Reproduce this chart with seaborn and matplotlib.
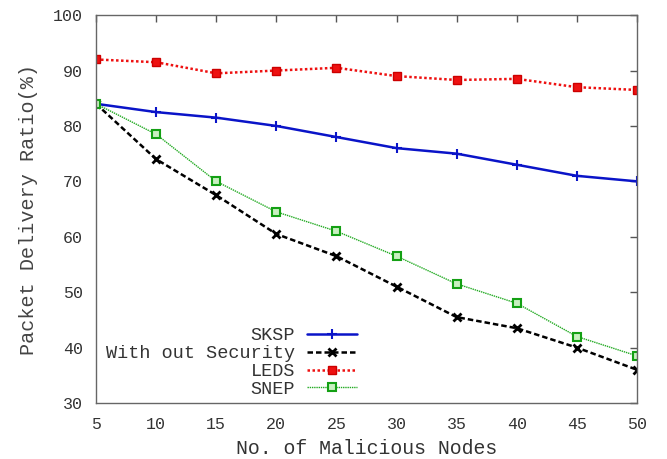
import matplotlib
matplotlib.use("Agg")
import matplotlib.pyplot as plt
import seaborn as sns
import pandas as pd

nodes = [5, 10, 15, 20, 25, 30, 35, 40, 45, 50]
sksp = [84, 82.5, 81.5, 80, 78, 76, 75, 73, 71, 70]
without = [84, 74, 67.5, 60.5, 56.5, 51, 45.5, 43.5, 40, 36]
leds = [92, 91.5, 89.5, 90, 90.5, 89, 88.3, 88.5, 87, 86.5]
snep = [84, 78.5, 70, 64.5, 61, 56.5, 51.5, 48, 42, 38.5]
series_names = ["SKSP", "With out Security", "LEDS", "SNEP"]
x_ticks = [5, 10, 15, 20, 25, 30, 35, 40, 45, 50]
y_ticks = [30, 40, 50, 60, 70, 80, 90, 100]

sns.set_style("white")
plt.rcParams['font.family'] = ['Liberation Mono', 'DejaVu Sans Mono']

fig = plt.figure(figsize=(6.67, 4.59), dpi=100)
ax = fig.add_axes([0.144, 0.122, 0.811, 0.845])

styles = [
    dict(color="#0a14c8", linestyle="-", marker="+", markersize=7, linewidth=1.8,
         markeredgewidth=1.5, markeredgecolor="#0a14c8"),
    dict(color="black", linestyle=(0, (2.2, 1.2)), marker="x", markersize=6, linewidth=1.8,
         markeredgewidth=2, markeredgecolor="black"),
    dict(color="#ee1111", linestyle=(0, (1, 1)), marker="s", markersize=6, linewidth=1.8,
         markeredgewidth=1, markerfacecolor="#ee1111", markeredgecolor="#cc0000"),
    dict(color="#22aa22", linestyle=(0, (1, 0.6)), marker="s", markersize=6, linewidth=1.0,
         markeredgewidth=1.5, markerfacecolor="#c8f0c0", markeredgecolor="#14a014"),
]

for name, vals, st in zip(series_names, [sksp, without, leds, snep], styles):
    df = pd.DataFrame({"nodes": nodes, "pdr": vals})
    sns.lineplot(data=df, x="nodes", y="pdr", ax=ax, label=name, **st)

ax.set_xlim(5, 50)
ax.set_ylim(30, 100)
ax.set_xticks(x_ticks)
ax.set_yticks(y_ticks)
ax.tick_params(direction="in", top=True, right=True, length=5, width=1,
               color="#555555", labelsize=12, labelcolor="#333333")
ax.tick_params(axis="x", pad=10)
ax.tick_params(axis="y", pad=9.5)
for sp in ax.spines.values():
    sp.set_color("#666666")
    sp.set_linewidth(1)

ax.set_xlabel("No. of Malicious Nodes", fontsize=14.3, color="#333333", labelpad=5)
ax.set_ylabel("Packet Delivery Ratio(%)", fontsize=14.5, color="#444444", labelpad=11)

leg = ax.legend(loc="lower right", bbox_to_anchor=(0.482, 0.013), frameon=False,
                markerfirst=False, fontsize=13.3, handlelength=2.7, handletextpad=0.65,
                labelspacing=0.05, borderpad=0, borderaxespad=0)
for t in leg.get_texts():
    t.set_color("#333333")

fig.savefig("out.png", dpi=100)
